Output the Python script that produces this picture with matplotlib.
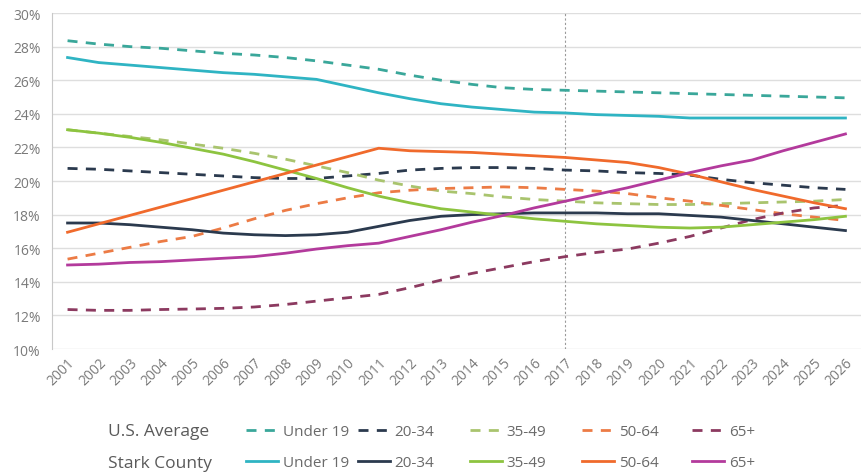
import matplotlib
matplotlib.use("Agg")
import matplotlib.pyplot as plt
from matplotlib.lines import Line2D

plt.rcParams['font.family'] = ['Open Sans', 'DejaVu Sans']

years = ["2001", "2002", "2003", "2004", "2005", "2006", "2007", "2008", "2009",
         "2010", "2011", "2012", "2013", "2014", "2015", "2016", "2017", "2018",
         "2019", "2020", "2021", "2022", "2023", "2024", "2025", "2026"]

age_groups = ["Under 19", "20-34", "35-49", "50-64", "65+"]
row_labels = ["U.S. Average", "Stark County"]

us_u19 = [28.35, 28.15, 28.0, 27.9, 27.75, 27.6, 27.5, 27.35, 27.15, 26.9, 26.65, 26.3, 26.0,
          25.75, 25.55, 25.45, 25.4, 25.35, 25.3, 25.25, 25.2, 25.15, 25.1, 25.05, 25.0, 24.95]
st_u19 = [27.35, 27.05, 26.9, 26.75, 26.6, 26.45, 26.35, 26.2, 26.05, 25.65, 25.25, 24.9, 24.6,
          24.4, 24.25, 24.1, 24.05, 23.95, 23.9, 23.85, 23.75, 23.75, 23.75, 23.75, 23.75, 23.75]
us_2034 = [20.75, 20.7, 20.6, 20.5, 20.4, 20.3, 20.2, 20.15, 20.15, 20.3, 20.45, 20.65, 20.75,
           20.8, 20.8, 20.75, 20.65, 20.6, 20.5, 20.45, 20.35, 20.1, 19.9, 19.75, 19.6, 19.5]
st_2034 = [17.5, 17.5, 17.4, 17.25, 17.1, 16.9, 16.8, 16.75, 16.8, 16.95, 17.3, 17.65, 17.9,
           18.0, 18.05, 18.1, 18.1, 18.1, 18.05, 18.05, 17.95, 17.85, 17.65, 17.45, 17.25, 17.05]
us_3549 = [23.05, 22.85, 22.65, 22.45, 22.2, 21.95, 21.65, 21.3, 20.9, 20.5, 20.05, 19.7, 19.4,
           19.25, 19.05, 18.9, 18.8, 18.7, 18.65, 18.6, 18.6, 18.65, 18.7, 18.75, 18.8, 18.9]
st_3549 = [23.05, 22.85, 22.6, 22.3, 21.95, 21.6, 21.15, 20.65, 20.15, 19.6, 19.1, 18.7, 18.35,
           18.15, 17.95, 17.75, 17.6, 17.45, 17.35, 17.25, 17.2, 17.25, 17.4, 17.55, 17.7, 17.9]
us_5064 = [15.35, 15.7, 16.05, 16.4, 16.7, 17.2, 17.75, 18.25, 18.65, 19.0, 19.3, 19.45, 19.55,
           19.6, 19.65, 19.6, 19.5, 19.4, 19.25, 19.0, 18.8, 18.55, 18.3, 18.05, 17.85, 17.65]
st_5064 = [16.95, 17.45, 17.95, 18.45, 18.95, 19.45, 19.95, 20.45, 20.95, 21.45, 21.95, 21.8, 21.75,
           21.7, 21.6, 21.5, 21.4, 21.25, 21.1, 20.8, 20.4, 19.95, 19.5, 19.1, 18.7, 18.35]
us_65 = [12.35, 12.3, 12.3, 12.35, 12.38, 12.42, 12.5, 12.65, 12.85, 13.05, 13.25, 13.65, 14.1,
         14.5, 14.85, 15.2, 15.5, 15.75, 15.95, 16.3, 16.7, 17.2, 17.7, 18.1, 18.4, 18.55]
st_65 = [15.0, 15.05, 15.15, 15.2, 15.3, 15.4, 15.5, 15.7, 15.95, 16.15, 16.3, 16.7, 17.1,
         17.55, 17.95, 18.4, 18.8, 19.2, 19.6, 20.05, 20.5, 20.9, 21.25, 21.8, 22.3, 22.8]

us_series = [us_u19, us_2034, us_3549, us_5064, us_65]
st_series = [st_u19, st_2034, st_3549, st_5064, st_65]

us_colors = ["#3aa79a", "#2b3a4e", "#a9c46e", "#ec7b45", "#8c3a60"]
st_colors = ["#2fb4c3", "#2b3a4e", "#8dc440", "#f06a2c", "#b33a9c"]

marker_year = "2017"
y_ticks = [10, 12, 14, 16, 18, 20, 22, 24, 26, 28, 30]

W, H = 861, 477
fig = plt.figure(figsize=(W / 100, H / 100), dpi=100)
ax = fig.add_axes([52 / W, 1 - 350 / H, (861 - 52) / W, (350 - 14) / H])

x = list(range(len(years)))
LW = 2.0
DASH = (3.6, 3.0)

for vals, c in zip(us_series, us_colors):
    ax.plot(x, vals, color=c, lw=LW, dashes=DASH, solid_capstyle='butt', zorder=3)
for vals, c in zip(st_series, st_colors):
    ax.plot(x, vals, color=c, lw=LW, zorder=3)

ax.axvline(years.index(marker_year), color="#9a9a9a", lw=0.8, ls=(0, (2, 2)), zorder=2)

ax.set_xlim(-0.5, len(years) - 0.5)
ax.set_ylim(10, 30)
ax.set_yticks(y_ticks)
ax.set_yticklabels([f"{t}%" for t in y_ticks])
ax.set_xticks(x)
ax.set_xticklabels(years, rotation=45, ha='right', rotation_mode='anchor')
ax.grid(axis='y', color="#dedede", lw=1.0)
ax.set_axisbelow(True)
for s in ["top", "right", "bottom"]:
    ax.spines[s].set_visible(False)
ax.spines["left"].set_color("#c8c8c8")
ax.tick_params(axis='both', length=0, colors="#7a7a7a", labelsize=10)
ax.tick_params(axis='y', pad=8)
ax.tick_params(axis='x', pad=4)

# row labels
fig.text(108 / W, 1 - 432 / H, row_labels[0], fontsize=12.5, color="#5a5a5a", va='center')
fig.text(108 / W, 1 - 464 / H, row_labels[1], fontsize=12.5, color="#5a5a5a", va='center')

col_x = [246, 358, 470, 582, 692]
for i, name in enumerate(age_groups):
    handles = [Line2D([], [], color=us_colors[i], lw=LW, dashes=DASH),
               Line2D([], [], color=st_colors[i], lw=LW)]
    fig.legend(handles, [name, name], loc='center left',
               bbox_to_anchor=(col_x[i] / W, 1 - 448 / H), frameon=False,
               fontsize=11, labelcolor="#6a6a6a", handlelength=2.1,
               handletextpad=0.3, labelspacing=1.05, borderpad=0, borderaxespad=0)

fig.savefig("out.png", dpi=100)
